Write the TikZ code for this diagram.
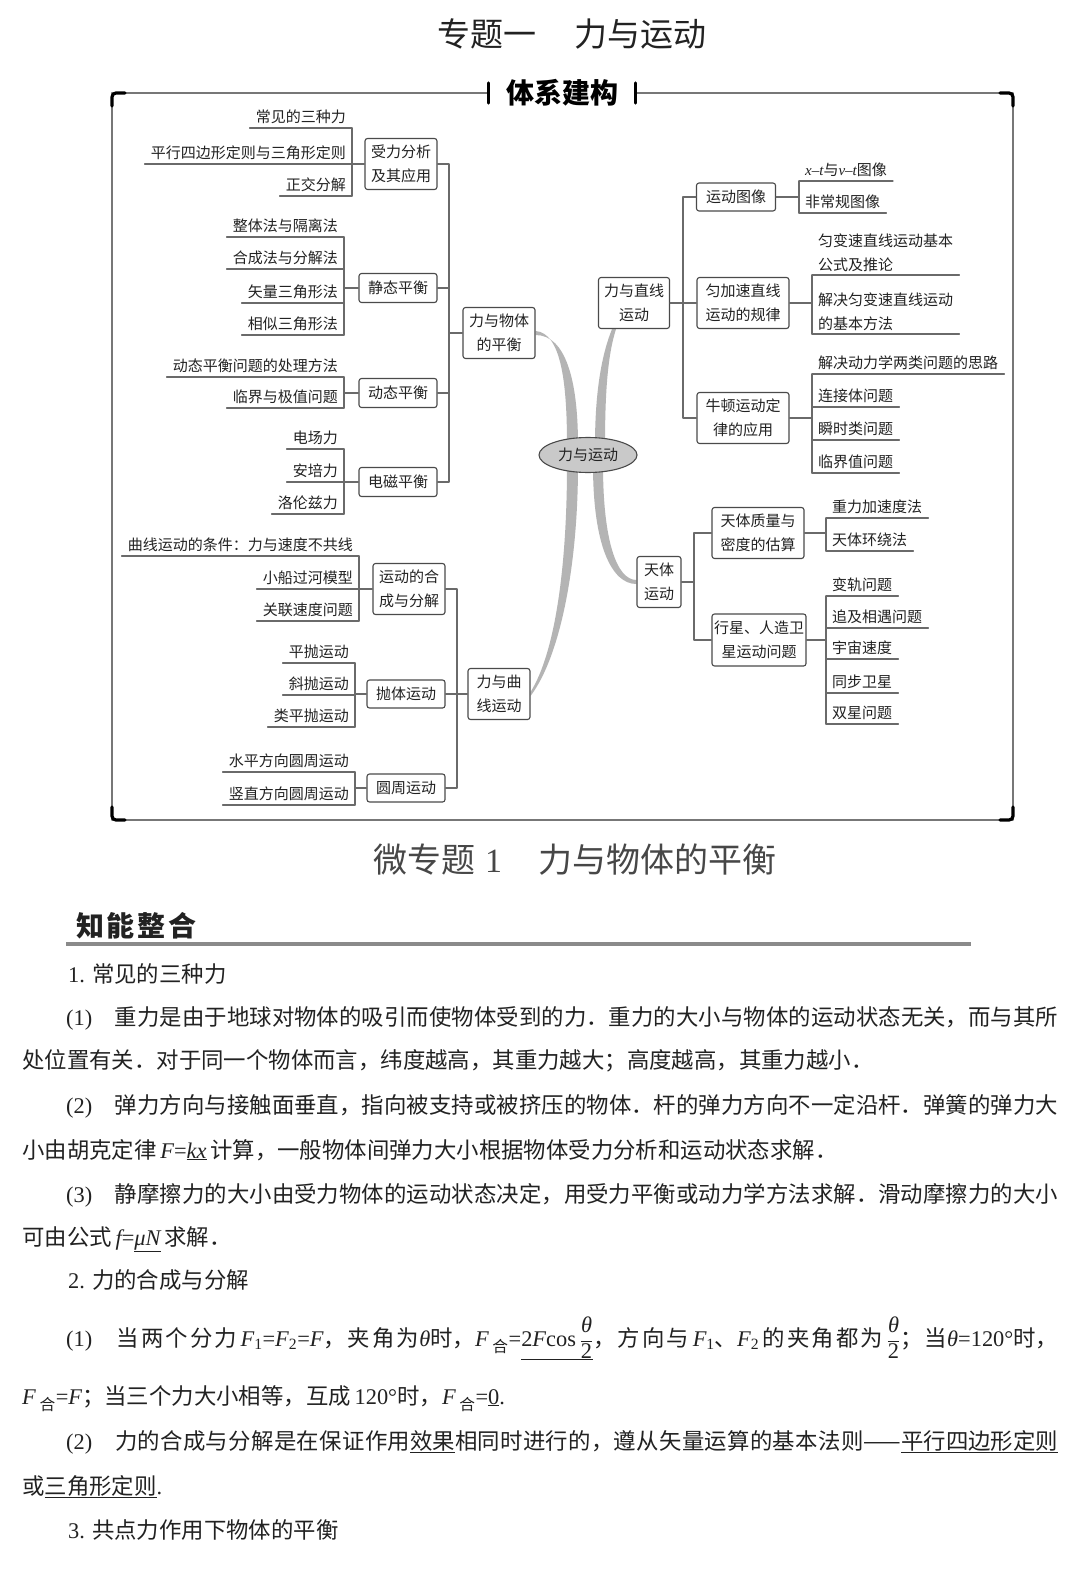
\documentclass[tikz,border=0pt]{standalone}
\usepackage{fontspec}
\setmainfont{Liberation Serif}
\newfontfamily\cjk{Noto Sans CJK SC}
\usetikzlibrary{shapes.geometric}
\pgfdeclarelayer{bg}
\pgfsetlayers{bg,main}
\XeTeXlinebreaklocale "zh"
\XeTeXlinebreakskip=0pt plus 2pt
\definecolor{linec}{HTML}{6A6A6A}
\definecolor{boxc}{HTML}{4A4A4A}
\definecolor{txt}{HTML}{222222}
\definecolor{brc}{HTML}{B4B4B4}
\definecolor{ctfill}{HTML}{C9C9C9}
\definecolor{framec}{HTML}{777777}
\definecolor{hdc}{HTML}{8A8A8A}
\newcommand\mmfont{\cjk\fontsize{15}{24}\selectfont}
\newcommand\bodyfont{\cjk\fontsize{22.4}{30}\selectfont}
\newcommand\itv[1]{{\rmfamily\itshape #1}}
\newcommand\upn[1]{{\rmfamily #1}}
\newcommand\subx[1]{\textsubscript{\rmfamily #1}}
\newcommand\subc[1]{\textsubscript{\cjk #1}}
\newcommand\fr{\,$\frac{\mbox{\raisebox{5pt}{\itv{θ}}}}{\mbox{\raisebox{-5pt}{\upn{2}}}}$}
\newcommand\jl[1]{\parbox[b]{992pt}{\parfillskip=0pt #1}}
\begin{document}
\begin{tikzpicture}[x=1pt, y=-1pt, line join=round, line cap=round,
  ln/.style={draw=linec, line width=1.1pt},
  box/.style={draw=boxc, line width=1.1pt, rounded corners=2.5pt, fill=white, align=center, inner sep=1pt, font=\mmfont, text=txt},
  lfl/.style={anchor=south east, inner xsep=6pt, inner ysep=2pt, text height=13pt, text depth=3pt, font=\mmfont, text=txt,
    append after command={(\tikzlastnode.south west) edge[ln] (\tikzlastnode.south east)}},
  lfr/.style={lfl, anchor=south west},
  lfr2/.style={anchor=south west, inner xsep=6pt, inner ysep=3pt, align=left, font=\mmfont, text=txt,
    append after command={(\tikzlastnode.south west) edge[ln] (\tikzlastnode.south east)}},
  bline/.style={anchor=base west, inner sep=0pt, font=\bodyfont, text=txt},
  frm/.style={draw=framec, line width=1.6pt},
  crn/.style={draw=black, line width=3.2pt, rounded corners=4pt}]
\begin{pgfonlayer}{bg}
\fill[white] (0,0) rectangle (1080,1594);
\end{pgfonlayer}
\useasboundingbox (0,0) rectangle (1080,1594);

\node[anchor=base west, inner sep=0pt, font=\cjk\fontsize{33}{33}\selectfont, text=txt] (tit) at (437,47) {专题一\hspace{38pt}力与运动};

\node[fill=white, inner xsep=17pt, inner ysep=2pt, font=\cjk\bfseries\fontsize{28}{28}\selectfont] (lbl) at (562,93) {体系建构};
\draw[frm] (lbl.east) -- (1013,93) -- (1013,820) -- (112,820) -- (112,93) -- (lbl.west);
\draw[line width=3.2pt] ([yshift=10pt]lbl.west) -- ([yshift=-10pt]lbl.west)
  ([yshift=10pt]lbl.east) -- ([yshift=-10pt]lbl.east);
\draw[crn] (112,106) -- (112,93) -- (125,93);
\draw[crn] (1000,93) -- (1013,93) -- (1013,106);
\draw[crn] (112,807) -- (112,820) -- (125,820);
\draw[crn] (1000,820) -- (1013,820) -- (1013,807);

\node[ellipse, draw=boxc, line width=1.1pt, fill=ctfill, minimum width=98pt, minimum height=35pt, inner sep=0pt, font=\mmfont, text=txt] (ct) at (588,455) {力与运动};

\node[box, minimum width=72pt, minimum height=51pt] (ph) at (499,333) {力与物体\\的平衡};
\node[box, minimum width=62pt, minimum height=51pt] (qx) at (499,694) {力与曲\\线运动};
\node[box, minimum width=71pt, minimum height=51pt] (zx) at (634,303) {力与直线\\运动};
\node[box, minimum width=44pt, minimum height=51pt] (tt) at (659,582) {天体\\运动};

\node[box, minimum width=72pt, minimum height=51pt] (sa) at (401,164) {受力分析\\及其应用};
\node[box, minimum width=78pt, minimum height=29pt] (jt) at (398,288) {静态平衡};
\node[box, minimum width=78pt, minimum height=29pt] (dt) at (398,393) {动态平衡};
\node[box, minimum width=78pt, minimum height=29pt] (dc) at (398,482) {电磁平衡};
\node[box, minimum width=72pt, minimum height=51pt] (hc) at (409,589) {运动的合\\成与分解};
\node[box, minimum width=78pt, minimum height=28pt] (pt) at (406,694) {抛体运动};
\node[box, minimum width=78pt, minimum height=28pt] (yz) at (406,788) {圆周运动};

\node[box, minimum width=79pt, minimum height=28pt] (tx) at (736,197) {运动图像};
\node[box, minimum width=92pt, minimum height=51pt] (gl) at (743,303) {匀加速直线\\运动的规律};
\node[box, minimum width=92pt, minimum height=51pt] (nd) at (743,418) {牛顿运动定\\律的应用};
\node[box, minimum width=92pt, minimum height=51pt] (gs) at (758,533) {天体质量与\\密度的估算};
\node[box, minimum width=94pt, minimum height=52pt] (wx) at (759,640) {行星、人造卫\\星运动问题};

\node[lfl] (a1) at (352,128) {常见的三种力};
\node[lfl] (a2) at (352,164) {平行四边形定则与三角形定则};
\node[lfl] (a3) at (352,196) {正交分解};
\node[lfl] (b1) at (344,237) {整体法与隔离法};
\node[lfl] (b2) at (344,269) {合成法与分解法};
\node[lfl] (b3) at (344,303) {矢量三角形法};
\node[lfl] (b4) at (344,335) {相似三角形法};
\node[lfl] (c1) at (344,377) {动态平衡问题的处理方法};
\node[lfl] (c2) at (344,408) {临界与极值问题};
\node[lfl] (d1) at (344,449) {电场力};
\node[lfl] (d2) at (344,482) {安培力};
\node[lfl] (d3) at (344,514) {洛伦兹力};
\node[lfl] (e1) at (359,556) {曲线运动的条件：力与速度不共线};
\node[lfl] (e2) at (359,589) {小船过河模型};
\node[lfl] (e3) at (359,621) {关联速度问题};
\node[lfl] (f1) at (355,663) {平抛运动};
\node[lfl] (f2) at (355,695) {斜抛运动};
\node[lfl] (f3) at (355,727) {类平抛运动};
\node[lfl] (g1) at (355,772) {水平方向圆周运动};
\node[lfl] (g2) at (355,805) {竖直方向圆周运动};

\node[lfr] (h1) at (799,181) {\itv{x}\upn{–}\itv{t}与\itv{v}\upn{–}\itv{t}图像};
\node[lfr] (h2) at (799,213) {非常规图像};
\node[lfr2] (i1) at (812,275) {匀变速直线运动基本\\公式及推论};
\node[lfr2] (i2) at (812,334) {解决匀变速直线运动\\的基本方法};
\node[lfr] (j1) at (812,374) {解决动力学两类问题的思路};
\node[lfr] (j2) at (812,407) {连接体问题};
\node[lfr] (j3) at (812,440) {瞬时类问题};
\node[lfr] (j4) at (812,473) {临界值问题};
\node[lfr] (k1) at (826,518) {重力加速度法};
\node[lfr] (k2) at (826,551) {天体环绕法};
\node[lfr] (m1) at (826,596) {变轨问题};
\node[lfr] (m2) at (826,628) {追及相遇问题};
\node[lfr] (m3) at (826,659) {宇宙速度};
\node[lfr] (m4) at (826,693) {同步卫星};
\node[lfr] (m5) at (826,724) {双星问题};

\foreach \b/\t/\e in {sa/a1/a3, jt/b1/b4, dt/c1/c2, dc/d1/d3, hc/e1/e3, pt/f1/f3, yz/g1/g2} {
  \draw[ln] (\t.south east) -- (\e.south east);
  \draw[ln] (\b.west) -- (\b.west -| \t.south east);
}
\foreach \b/\t/\e in {tx/h1/h2, gl/i1/i2, nd/j1/j4, gs/k1/k2, wx/m1/m5} {
  \draw[ln] (\t.south west) -- (\e.south west);
  \draw[ln] (\b.east) -- (\b.east -| \t.south west);
}

\coordinate (tl) at (449,333);
\coordinate (tb) at (457,694);
\coordinate (tr) at (683,303);
\coordinate (tc) at (694,582);
\draw[ln] (sa.east) -- (sa.east -| tl) -- (dc.east -| tl) -- (dc.east);
\foreach \n in {jt,dt} \draw[ln] (\n.east) -- (\n.east -| tl);
\draw[ln] (ph.west) -- (tl);
\draw[ln] (hc.east) -- (hc.east -| tb) -- (yz.east -| tb) -- (yz.east);
\draw[ln] (pt.east) -- (pt.east -| tb);
\draw[ln] (qx.west) -- (tb);
\draw[ln] (tx.west) -- (tx.west -| tr) -- (nd.west -| tr) -- (nd.west);
\draw[ln] (gl.west) -- (gl.west -| tr);
\draw[ln] (zx.east) -- (tr);
\draw[ln] (gs.west) -- (gs.west -| tc) -- (wx.west -| tc) -- (wx.west);
\draw[ln] (tt.east) -- (tc);

\begin{pgfonlayer}{bg}
\fill[brc] ([shift={(0,-2)}]ph.east) .. controls +(25,2) and +(0,-65) .. ([shift={(-21,-10)}]ct.center)
  -- ([shift={(-10,-10)}]ct.center) .. controls +(0,-65) and +(30,0) .. ([shift={(0,2)}]ph.east) -- cycle;
\fill[brc] ([shift={(-22,0)}]zx.south) .. controls +(-10,25) and +(0,-55) .. ([shift={(7,-10)}]ct.center)
  -- ([shift={(17,-10)}]ct.center) .. controls +(0,-55) and +(-8,25) .. ([shift={(-18,0)}]zx.south) -- cycle;
\fill[brc] ([shift={(-21,10)}]ct.center) .. controls +(0,100) and +(25,-40) .. ([shift={(0,-2)}]qx.east)
  -- ([shift={(0,2)}]qx.east) .. controls +(30,-40) and +(0,100) .. ([shift={(-10,10)}]ct.center) -- cycle;
\fill[brc] ([shift={(5,10)}]ct.center) .. controls +(0,80) and +(-25,0) .. ([shift={(0,2)}]tt.west)
  -- ([shift={(0,-2)}]tt.west) .. controls +(-20,0) and +(0,75) .. ([shift={(15,10)}]ct.center) -- cycle;
\end{pgfonlayer}

\node[anchor=base west, inner sep=0pt, font=\cjk\fontsize{34}{34}\selectfont, text=black!72] (wzt) at (373,872) {微专题\hspace{10pt}\upn{1}\hspace{36pt}力与物体的平衡};
\node[anchor=base west, inner sep=0pt, font=\cjk\bfseries\fontsize{28}{28}\selectfont\addfontfeature{LetterSpace=10}, text=txt] (zn) at (76,936) {知能整合};
\draw[draw=hdc, line width=3.5pt, line cap=butt] (66,944) -- (971,944);

\node[bline] (p1) at (68,982) {\upn{1.}\hspace{7pt}常见的三种力};
\node[bline] (p2) at (66,1025) {\jl{\upn{(1)}　重力是由于地球对物体的吸引而使物体受到的力．重力的大小与物体的运动状态无关，而与其所}};
\node[bline] (p3) at (22,1068) {处位置有关．对于同一个物体而言，纬度越高，其重力越大；高度越高，其重力越小．};
\node[bline] (p4) at (66,1113) {\jl{\upn{(2)}　弹力方向与接触面垂直，指向被支持或被挤压的物体．杆的弹力方向不一定沿杆．弹簧的弹力大}};
\node[bline] (p5) at (22,1158) {小由胡克定律\,\itv{F}\upn{=}\underline{\itv{kx}}\,计算，一般物体间弹力大小根据物体受力分析和运动状态求解．};
\node[bline] (p6) at (66,1202) {\jl{\upn{(3)}　静摩擦力的大小由受力物体的运动状态决定，用受力平衡或动力学方法求解．滑动摩擦力的大小}};
\node[bline] (p7) at (22,1245) {可由公式\,\itv{f}\upn{=}\underline{\itv{μN}}\,求解．};
\node[bline] (p8) at (68,1288) {\upn{2.}\hspace{7pt}力的合成与分解};
\node[bline] (p9) at (66,1346) {\jl{\upn{(1)}　当两个分力\,\itv{F}\subx{1}\upn{=}\itv{F}\subx{2}\upn{=}\itv{F}，夹角为\itv{θ}时，\itv{F}\,\subc{合}\upn{=}\underline{\upn{2}\itv{F}\upn{cos}\fr}，方向与\,\itv{F}\subx{1}、\itv{F}\subx{2}\,的夹角都为\fr；当\itv{θ}\upn{=120°}时，}};
\node[bline] (p10) at (22,1404) {\itv{F}\,\subc{合}\upn{=}\itv{F}；当三个力大小相等，互成\,\upn{120°}时，\itv{F}\,\subc{合}\upn{=}\underline{\upn{0}}\upn{.}};
\node[bline] (p11) at (66,1449) {\jl{\upn{(2)}　力的合成与分解是在保证作用\underline{效果}相同时进行的，遵从矢量运算的基本法则——\underline{平行四边形定则}}};
\node[bline] (p12) at (22,1494) {或\underline{三角形定则}\upn{.}};
\node[bline] (p13) at (68,1538) {\upn{3.}\hspace{7pt}共点力作用下物体的平衡};
\end{tikzpicture}
\end{document}
